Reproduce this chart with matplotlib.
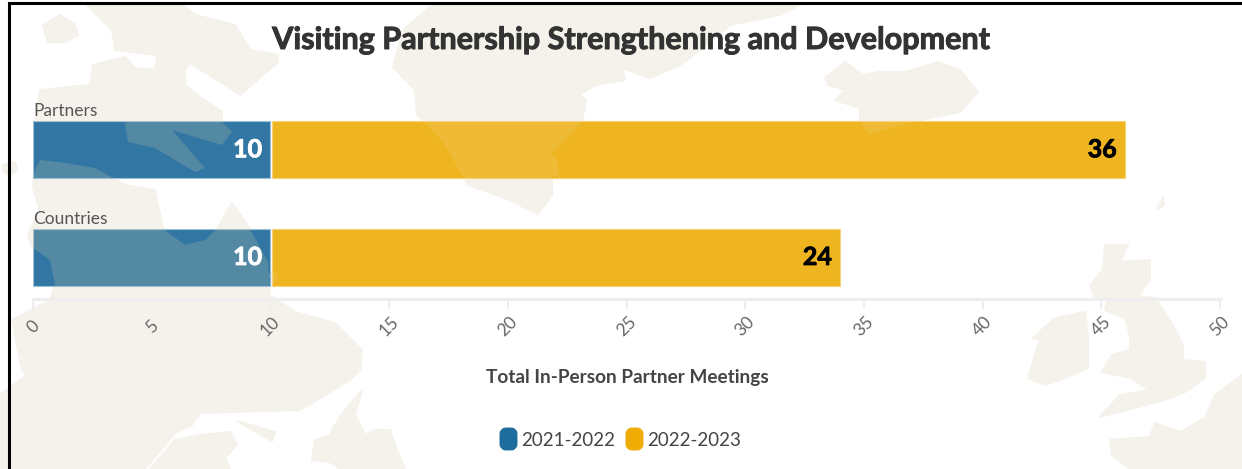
import matplotlib
matplotlib.use('Agg')
import matplotlib.pyplot as plt
import matplotlib.patheffects as pe
from matplotlib.patches import Polygon, FancyBboxPatch

plt.rcParams['font.family'] = ['Lato', 'DejaVu Sans']

categories = ['Partners', 'Countries']
years = ['2021-2022', '2022-2023']
values_2021 = [10, 10]
values_2022 = [36, 24]
xticks = [0, 5, 10, 15, 20, 25, 30, 35, 40, 45, 50]

BLUE = '#3277a3'
YELLOW = '#efb520'
LAND = '#f5f2ec'
W, H = 1242, 469

# background map outlines, in image pixels
greenland = [(432,5),(403,30),(393,67),(415,90),(417,115),(425,122),(445,145),(462,175),(468,185),
             (505,198),(538,214),(552,195),(552,175),(560,178),(557,160),(552,153),(570,135),(582,122),
             (586,100),(580,95),(595,85),(625,80),(622,68),(650,78),(680,65),(700,50),(730,25),(780,15),(800,5)]
iceland = [(825,78),(845,62),(863,75),(880,72),(905,72),(938,62),(960,70),(978,92),(960,112),(930,118),
           (900,125),(870,135),(860,122),(860,108),(835,100),(845,90),(828,85)]
ireland = [(1033,338),(1055,318),(1085,312),(1088,335),(1088,368),(1060,380),(1045,385),(1028,378),(1035,355),(1040,340)]
britain = [(1090,285),(1103,270),(1105,245),(1128,245),(1120,262),(1150,260),(1150,280),(1138,296),(1155,298),
           (1170,320),(1183,345),(1183,360),(1205,362),(1205,378),(1185,392),(1165,400),(1100,417),(1120,395),
           (1150,390),(1130,378),(1102,372),(1112,355),(1130,350),(1130,335),(1125,318),(1105,310),(1108,298),(1095,300)]
europe = [(1110,440),(1150,437),(1155,423),(1180,432),(1205,418),(1215,395),(1242,375),(1242,469),(1130,469),(1112,455)]
shetland = [(1157,210),(1163,197),(1164,205)]
blob1 = [(43,25),(60,15),(75,25),(78,35),(65,42),(48,42)]
blob2 = [(3,165),(15,162),(17,170),(10,175),(3,172)]
blob3 = [(268,274),(275,272),(278,279),(272,285)]
north = [(85,3),(180,3),(195,15),(235,25),(250,50),(278,55),(278,62),(240,95),(225,85),(190,63),(185,70),(185,85),
         (200,97),(222,112),(222,122),(232,132),(222,145),(205,140),(172,130),(205,168),(195,172),(155,148),(128,142),
         (125,122),(35,122),(40,90),(90,85),(93,65),(125,57),(135,68),(155,70),(157,55),(115,50),(112,30)]
mainland = [(35,170),(40,160),(65,163),(95,168),(125,185),(155,190),(160,215),(163,229),(185,245),(205,240),(217,229),
            (225,215),(232,203),(250,229),(268,262),(270,295),(295,312),(335,323),(362,350),(360,370),(350,380),(300,410),
            (200,413),(192,425),(175,433),(145,469),(0,469),(0,395),(20,380),(27,375),(22,370),(12,320),(50,300),(55,285),
            (50,260),(33,248),(28,235),(40,210),(33,187)]
nova = [(150,469),(175,440),(200,435),(230,432),(237,445),(225,458),(230,469)]
sliver = [(237,421),(275,432),(272,441)]
newfoundland = [(362,390),(345,410),(335,425),(330,435),(315,440),(312,460),(330,462),(340,469),(405,469),(395,445),
                (390,430),(375,430),(365,435),(355,415)]
land = [greenland, iceland, ireland, britain, europe, shetland, blob1, blob2, blob3, north, mainland, nova, sliver, newfoundland]

fig = plt.figure(figsize=(W/100, H/100), dpi=100, facecolor='white')

bg = fig.add_axes([0, 0, 1, 1], zorder=0)
bg.set_xlim(0, W)
bg.set_ylim(H, 0)
bg.axis('off')
for poly in land:
    bg.add_patch(Polygon(poly, closed=True, fc=LAND, ec=LAND, lw=1.5, joinstyle='round'))
bg.plot([9, 9, W], [H, 3, 3], color='black', lw=2.2, solid_joinstyle='miter')

# plot area: x 33..1220, y 96..299 px
ax = fig.add_axes([33/W, 1-299/H, (1220-33)/W, (299-96)/H], zorder=1)
ax.patch.set_alpha(0)
ax.set_xlim(0, 50)
ax.set_ylim(1.386, -0.5)

y = [0, 1]
bars1 = ax.barh(y, values_2021, height=0.53, color=BLUE, edgecolor='#9cc0d6', lw=0.8, zorder=2)
left2 = [v + 0.05 for v in values_2021]
bars2 = ax.barh(y, [b - 0.05 for b in values_2022], left=left2, height=0.53, color=YELLOW, edgecolor='#f6d27a', lw=0.8, zorder=2)

# land shows through the bars
for bar in list(bars1) + list(bars2):
    for poly in land:
        p = Polygon(poly, closed=True, fc=(244/255, 219/255, 163/255), ec='none', alpha=0.18,
                    transform=bg.transData, zorder=3)
        ax.add_patch(p)
        p.set_clip_path(bar)

for i, cat in enumerate(categories):
    ax.text(0, i - 0.285, cat, fontsize=12.5, color='#555555', ha='left', va='bottom', zorder=5)
    ax.text(values_2021[i] - 0.35, i, str(values_2021[i]), fontsize=18, fontweight='bold', color='white',
            ha='right', va='center', zorder=5,
            path_effects=[pe.withStroke(linewidth=0.6, foreground='white')])
    end = values_2021[i] + values_2022[i]
    ax.text(end - 0.35, i, str(values_2022[i]), fontsize=18, fontweight='bold', color='black',
            ha='right', va='center', zorder=5,
            path_effects=[pe.withStroke(linewidth=0.6, foreground='black')])

for s in ['top', 'left', 'right']:
    ax.spines[s].set_visible(False)
ax.spines['bottom'].set_color('#eeeeee')
ax.spines['bottom'].set_linewidth(2.2)
ax.set_yticks([])
ax.set_xticks(xticks)
ax.tick_params(axis='x', length=7, width=1.5, color='#eeeeee', labelcolor='#666666', labelsize=12.5, pad=13)
for t in ax.get_xticklabels():
    t.set_rotation(45)
    t.set_ha('center')
    t.set_va('center')
    t.set_rotation_mode('anchor')

bg.text(627, 378, 'Total In-Person Partner Meetings', fontsize=13.7, fontweight='bold', color='#444444',
        ha='center', va='center')
fig.text(631/W, 1-40/H, 'Visiting Partnership Strengthening and Development', fontsize=22, fontweight='bold',
         color='#333333', ha='center', va='center', zorder=5,
         path_effects=[pe.withStroke(linewidth=0.7, foreground='#333333')])

# legend
legend_x = [500, 626]
legend_c = ['#1f6d9c', '#eeac05']
for xp, c, lab in zip(legend_x, legend_c, years):
    bg.add_patch(FancyBboxPatch((xp+3, 431), 11, 16, boxstyle='round,pad=0,rounding_size=3', mutation_aspect=1,
                                fc=c, ec=c, lw=5, joinstyle='round'))
    bg.text(xp + 21, 440, lab, fontsize=13.5, color='#444444', ha='left', va='center')

fig.savefig('out.png', dpi=100)
